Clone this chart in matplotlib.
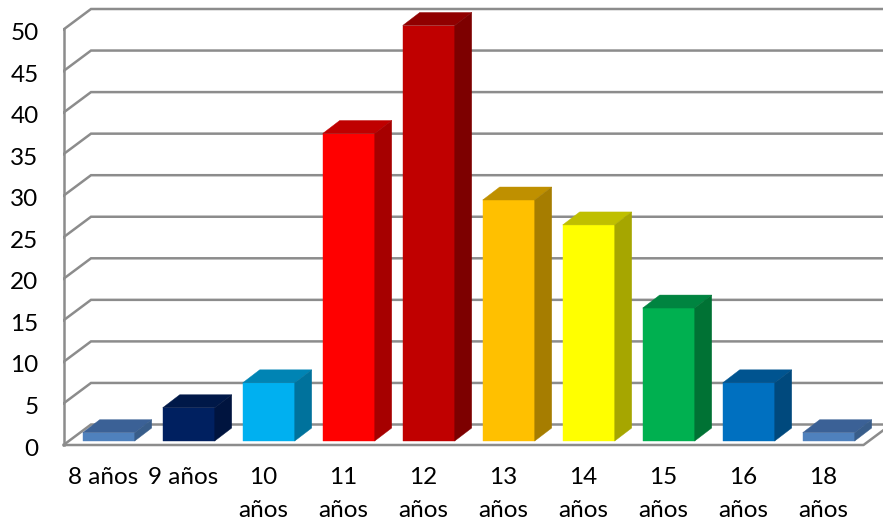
import numpy as np
import matplotlib
matplotlib.use('Agg')
import matplotlib.pyplot as plt

plt.rcParams['font.family'] = 'Lato'

labels = ['8 años', '9 años', '10\naños', '11\naños', '12\naños',
          '13\naños', '14\naños', '15\naños', '16\naños', '18\naños']
values = [1, 4, 7, 37, 50, 29, 26, 16, 7, 1]

front_colors = ['#4F81BD', '#002060', '#00B0F0', '#FF0000', '#C00000',
                '#FFC000', '#FFFF00', '#00B050', '#0070C0', '#4F81BD']
top_colors = ['#3B6196', '#001848', '#0084B4', '#BF0000', '#900000',
              '#BF9000', '#BFBF00', '#008440', '#005490', '#3B6196']
side_colors = ['#385D8A', '#00143F', '#00729C', '#A60000', '#7D0000',
               '#A67D00', '#A6A600', '#007234', '#00497D', '#385D8A']
y_ticks = np.arange(0, 51, 5)

# scale: pixels per category and per unit of value
PX_X = 80.0
PX_Y = 8.31
FIG_W, FIG_H = 883, 531

fig = plt.figure(figsize=(FIG_W / 100, FIG_H / 100), dpi=100)
ax = fig.add_axes([63.5 / FIG_W, (FIG_H - 450) / FIG_H, (FIG_W - 63.5) / FIG_W, 450 / FIG_H])
ax.set_xlim(-0.5, -0.5 + (FIG_W - 63.5) / PX_X)
ax.set_ylim(-9 / PX_Y, 441 / PX_Y)
for s in ax.spines.values():
    s.set_visible(False)

# 3D box: the floor sits 4 px under the bars, the back wall 27 px right and 20 px up
front_dy = -4 / PX_Y
wall_dx = 27.5 / PX_X
wall_dy = 20.5 / PX_Y
x0, x1 = -0.5, 9.5
grid_c = '#8C8C8C'
grid_lw = 1.8

for v in y_ticks:
    ax.plot([x0, x0 + wall_dx, x1 + wall_dx + 1],
            [v + front_dy, v + front_dy + wall_dy, v + front_dy + wall_dy],
            color=grid_c, lw=grid_lw, zorder=1, solid_joinstyle='miter')
ax.plot([x0, x0], [front_dy, 50 + front_dy], color=grid_c, lw=grid_lw, zorder=2, clip_on=False)
ax.plot([x0, x1, x1 + wall_dx], [front_dy, front_dy, front_dy + wall_dy],
        color=grid_c, lw=grid_lw, zorder=2, clip_on=False)

# bars with their top and side faces
bar_w = 52 / PX_X
bar_shift = 5.2 / PX_X
depth_x = 17 / PX_X
depth_y = 13 / PX_Y
positions = np.arange(len(values))

for i, v in enumerate(values):
    left = positions[i] + bar_shift - bar_w / 2
    right = left + bar_w
    ax.bar(positions[i] + bar_shift, v, width=bar_w, color=front_colors[i], zorder=3,
           edgecolor=front_colors[i], linewidth=0.3)
    ax.fill([left, right, right + depth_x, left + depth_x],
            [v, v, v + depth_y, v + depth_y], color=top_colors[i], lw=0.3, zorder=3)
    ax.fill([right, right + depth_x, right + depth_x, right],
            [0, depth_y, v + depth_y, v], color=side_colors[i], lw=0.3, zorder=3)

ax.set_xticks(positions, labels)
# value labels sit a little under their gridline ends
ax.set_yticks(y_ticks + front_dy - 2 / PX_Y, [str(t) for t in y_ticks])
ax.tick_params(axis='both', length=0, labelsize=17.5, colors='black')
ax.tick_params(axis='x', pad=12.5)
ax.tick_params(axis='y', pad=18)
for t in ax.get_xticklabels():
    t.set_linespacing(1.67)

fig.savefig('out.png', dpi=100)
